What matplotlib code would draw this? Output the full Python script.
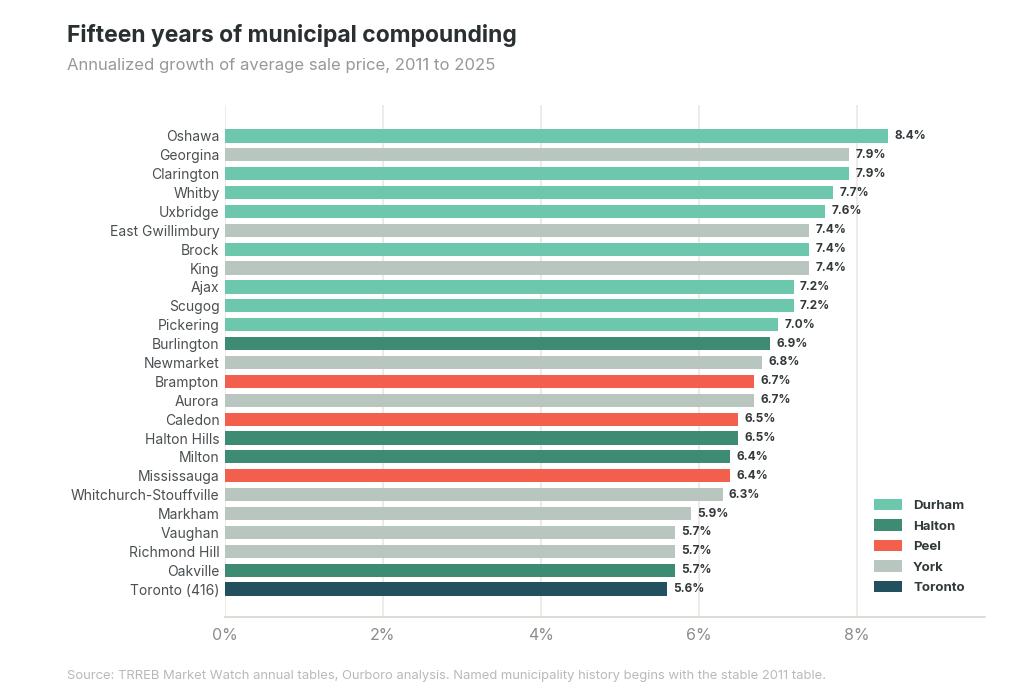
import matplotlib.pyplot as plt
from matplotlib.patches import Patch

plt.rcParams['font.family'] = ['Inter', 'DejaVu Sans']

municipalities = ['Oshawa', 'Georgina', 'Clarington', 'Whitby', 'Uxbridge', 'East Gwillimbury',
                  'Brock', 'King', 'Ajax', 'Scugog', 'Pickering', 'Burlington', 'Newmarket',
                  'Brampton', 'Aurora', 'Caledon', 'Halton Hills', 'Milton', 'Mississauga',
                  'Whitchurch-Stouffville', 'Markham', 'Vaughan', 'Richmond Hill', 'Oakville',
                  'Toronto (416)']
growth = [8.4, 7.9, 7.9, 7.7, 7.6, 7.4, 7.4, 7.4, 7.2, 7.2, 7.0, 6.9, 6.8, 6.7, 6.7,
          6.5, 6.5, 6.4, 6.4, 6.3, 5.9, 5.7, 5.7, 5.7, 5.6]
regions = ['Durham', 'York', 'Durham', 'Durham', 'Durham', 'York', 'Durham', 'York', 'Durham',
           'Durham', 'Durham', 'Halton', 'York', 'Peel', 'York', 'Peel', 'Halton', 'Halton',
           'Peel', 'York', 'York', 'York', 'York', 'Halton', 'Toronto']

region_colors = {'Durham': '#6cc7ad', 'Halton': '#3d8b72', 'Peel': '#f25f4c',
                 'York': '#b9c6c0', 'Toronto': '#23505f'}

fig = plt.figure(figsize=(10.24, 6.93), dpi=100)
ax = fig.add_axes([0.2197, 0.1097, 0.742, 0.7388])

ypos = range(len(municipalities))
ax.barh(ypos, growth, height=0.7, color=[region_colors[r] for r in regions], zorder=3)
for y, v in zip(ypos, growth):
    ax.text(v + 0.08, y, f'{v:.1f}%', va='center', ha='left', fontsize=8.5,
            fontweight='bold', color='#33393b', zorder=4)

ax.set_ylim(25.48, -1.64)
ax.set_xlim(0, 9.62)
ax.set_yticks(list(ypos))
ax.set_yticklabels(municipalities, fontsize=10, color='#4a4f51')
ax.set_xticks([0, 2, 4, 6, 8])
ax.set_xticklabels(['0%', '2%', '4%', '6%', '8%'], fontsize=11.5, color='#8a8d8e')
ax.tick_params(axis='y', length=0, pad=4)
ax.tick_params(axis='x', length=0, pad=8)
ax.grid(axis='x', color='#ebe8e3', linewidth=1.2, zorder=0)
for s in ['top', 'right', 'left']:
    ax.spines[s].set_visible(False)
ax.spines['bottom'].set_color('#d9d6d1')
ax.spines['bottom'].set_linewidth(1.2)

handles = [Patch(facecolor=region_colors[r], label=r) for r in
           ['Durham', 'Halton', 'Peel', 'York', 'Toronto']]
leg = ax.legend(handles=handles, loc='lower right', bbox_to_anchor=(0.99, 0.02), frameon=False,
                handlelength=2.0, handleheight=0.9, labelspacing=0.5, handletextpad=0.8)
for t in leg.get_texts():
    t.set_fontweight('bold')
    t.set_fontsize(9.5)
    t.set_color('#33393b')

fig.text(0.0655, 0.949, 'Fifteen years of municipal compounding', fontsize=16.5,
         fontweight='bold', color='#2a2f31', va='center')
fig.text(0.0655, 0.906, 'Annualized growth of average sale price, 2011 to 2025', fontsize=12,
         color='#95999a', va='center')
fig.text(0.0655, 0.024, 'Source: TRREB Market Watch annual tables, Ourboro analysis. '
         'Named municipality history begins with the stable 2011 table.',
         fontsize=9.4, color='#b8bab9', va='center')

fig.savefig('out.png', dpi=100, facecolor='white')
